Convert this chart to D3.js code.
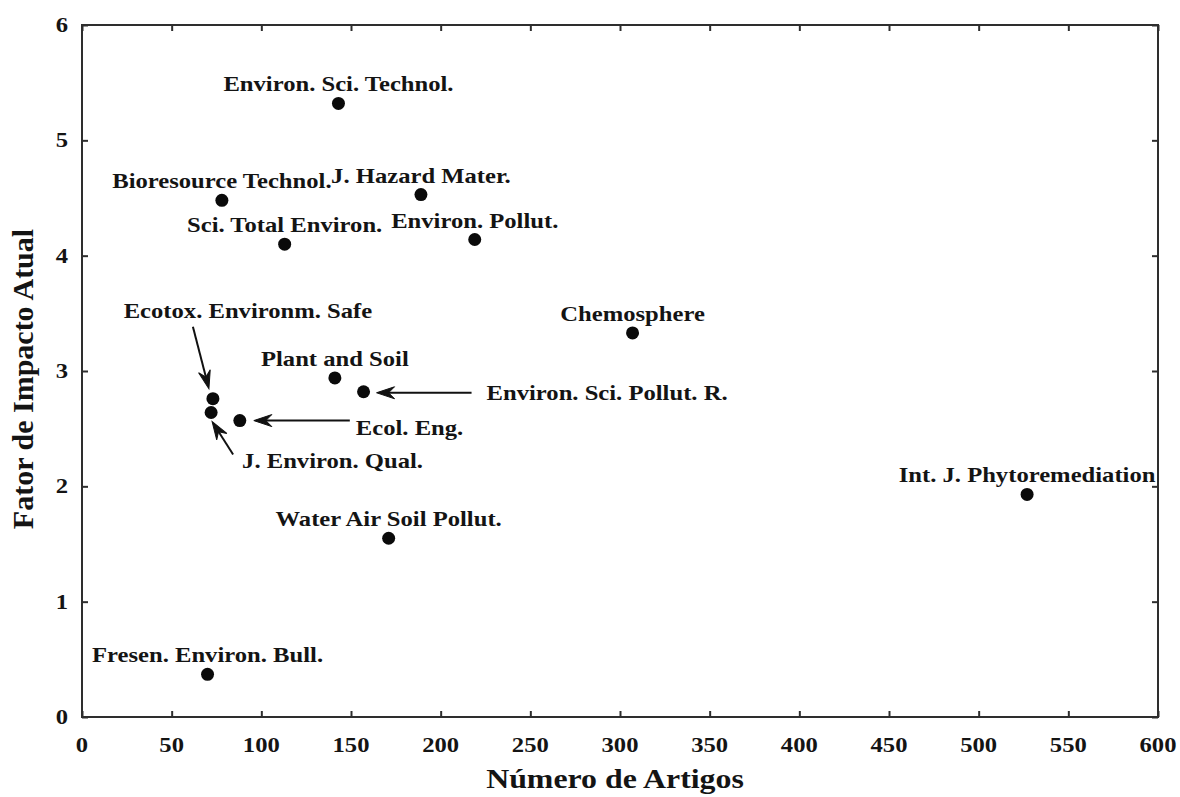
<!DOCTYPE html>
<html>
<head>
<meta charset="utf-8">
<script src="https://cdn.jsdelivr.net/npm/d3@7"></script>
<style>
  html, body { margin: 0; padding: 0; background: #fff; }
  svg { display: block; }
  text { font-family: "Liberation Serif", "Times New Roman", serif; font-weight: bold; fill: #141414; }
</style>
</head>
<body>
<svg id="chart" width="1180" height="797"></svg>
<script>
// ---- data ----
const journals = [
  "Environ. Sci. Technol.",
  "Bioresource Technol.",
  "J. Hazard Mater.",
  "Sci. Total Environ.",
  "Environ. Pollut.",
  "Chemosphere",
  "Plant and Soil",
  "Environ. Sci. Pollut. R.",
  "Ecotox. Environm. Safe",
  "J. Environ. Qual.",
  "Ecol. Eng.",
  "Int. J. Phytoremediation",
  "Water Air Soil Pollut.",
  "Fresen. Environ. Bull."
];
const numArticles = [143, 78, 189, 113, 219, 307, 141, 157, 73, 72, 88, 527, 171, 70];
const impactFactor = [5.32, 4.48, 4.53, 4.10, 4.14, 3.33, 2.94, 2.82, 2.76, 2.64, 2.57, 1.93, 1.55, 0.37];
const xTicks = [0, 50, 100, 150, 200, 250, 300, 350, 400, 450, 500, 550, 600];
const yTicks = [0, 1, 2, 3, 4, 5, 6];
const xTitle = "Número de Artigos";
const yTitle = "Fator de Impacto Atual";

// ---- layout (label placement relative to each point, in px) ----
const labelLayout = {
  "Ecotox. Environm. Safe":   { dx: 35, dy: -81, anchor: "middle", arrow: [[-20, -72], [-4, -10]] },
  "J. Environ. Qual.":        { dx: 31, dy: 55, anchor: "start", arrow: [[22, 42], [1, 9]] },
  "Ecol. Eng.":               { dx: 116, dy: 14, anchor: "start", arrow: [[110, 0], [14, 0]] },
  "Environ. Sci. Pollut. R.": { dx: 123, dy: 8, anchor: "start", arrow: [[108, 1], [13, 1]] }
};
const defaultLabel = { dx: 0, dy: -12, anchor: "middle" };

const W = 1180, H = 797;
const margin = { left: 82, right: 22, top: 25, bottom: 80 };
const svg = d3.select("#chart");

const x = d3.scaleLinear().domain([0, 600]).range([margin.left, W - margin.right]);
const y = d3.scaleLinear().domain([0, 6]).range([H - margin.bottom, margin.top]);

const axisColor = "#2e2e2e";
const tickLen = 6;
const SX = 1.12;

// frame
svg.append("rect")
  .attr("x", x(0)).attr("y", y(6))
  .attr("width", x(600) - x(0)).attr("height", y(0) - y(6))
  .attr("fill", "none").attr("stroke", axisColor).attr("stroke-width", 2);

// axes with inward ticks
const gx = svg.append("g").attr("transform", `translate(0,${y(0)})`)
  .call(d3.axisBottom(x).tickValues(xTicks).tickSize(-tickLen).tickSizeOuter(0).tickPadding(0).tickFormat(() => ""));
const gxTop = svg.append("g").attr("transform", `translate(0,${y(6)})`)
  .call(d3.axisTop(x).tickValues(xTicks).tickSize(-tickLen).tickSizeOuter(0).tickFormat(() => ""));
const gy = svg.append("g").attr("transform", `translate(${x(0)},0)`)
  .call(d3.axisLeft(y).tickValues(yTicks).tickSize(-tickLen).tickSizeOuter(0).tickFormat(() => ""));
const gyR = svg.append("g").attr("transform", `translate(${x(600)},0)`)
  .call(d3.axisRight(y).tickValues(yTicks).tickSize(-tickLen).tickSizeOuter(0).tickFormat(() => ""));
[gx, gxTop, gy, gyR].forEach(g => {
  g.select(".domain").remove();
  g.selectAll(".tick line").attr("stroke", axisColor).attr("stroke-width", 2);
});

// tick labels
svg.append("g").selectAll("text").data(xTicks).join("text")
  .attr("transform", d => `translate(${x(d)},${y(0) + 35}) scale(${SX},1)`)
  .attr("text-anchor", "middle")
  .style("font-size", "22px")
  .text(d => d);
svg.append("g").selectAll("text").data(yTicks).join("text")
  .attr("transform", d => `translate(${x(0) - 14},${y(d) + 7}) scale(${SX},1)`)
  .attr("text-anchor", "end")
  .style("font-size", "22px")
  .text(d => d);

// axis titles
svg.append("text")
  .attr("transform", `translate(${(x(0) + x(600)) / 2 - 5},${H - 9}) scale(1.18,1)`)
  .attr("text-anchor", "middle")
  .style("font-size", "27px")
  .text(xTitle);
svg.append("text")
  .attr("transform", `translate(33,${(y(0) + y(6)) / 2 + 8}) rotate(-90)`)
  .attr("text-anchor", "middle")
  .style("font-size", "30px")
  .text(yTitle);

// data
const pts = journals.map((name, i) => ({ name, n: numArticles[i], f: impactFactor[i] }));

// arrows
const arrowG = svg.append("g");
pts.forEach(p => {
  const L = labelLayout[p.name];
  if (!L || !L.arrow) return;
  const px = x(p.n), py = y(p.f);
  const [t, h] = L.arrow;
  const x1 = px + t[0], y1 = py + t[1], x2 = px + h[0], y2 = py + h[1];
  const ang = Math.atan2(y2 - y1, x2 - x1) * 180 / Math.PI;
  const len = Math.hypot(x2 - x1, y2 - y1);
  const g = arrowG.append("g").attr("transform", `translate(${x1},${y1}) rotate(${ang})`);
  g.append("line").attr("x1", 0).attr("y1", 0).attr("x2", len - 8).attr("y2", 0)
    .attr("stroke", "#111").attr("stroke-width", 2);
  g.append("path")
    .attr("d", `M${len},0 L${len - 18},-6 L${len - 12},0 L${len - 18},6 Z`)
    .attr("fill", "#111").attr("stroke", "#111").attr("stroke-width", 1);
});

// points
svg.append("g").selectAll("circle").data(pts).join("circle")
  .attr("cx", d => x(d.n)).attr("cy", d => y(d.f))
  .attr("r", 6.5).attr("fill", "#0a0a0a");

// labels
svg.append("g").selectAll("text").data(pts).join("text")
  .attr("transform", d => {
    const L = labelLayout[d.name] || defaultLabel;
    return `translate(${x(d.n) + L.dx},${y(d.f) + L.dy}) scale(${SX},1)`;
  })
  .attr("text-anchor", d => (labelLayout[d.name] || defaultLabel).anchor)
  .style("font-size", "22px")
  .text(d => d.name);
</script>
</body>
</html>
